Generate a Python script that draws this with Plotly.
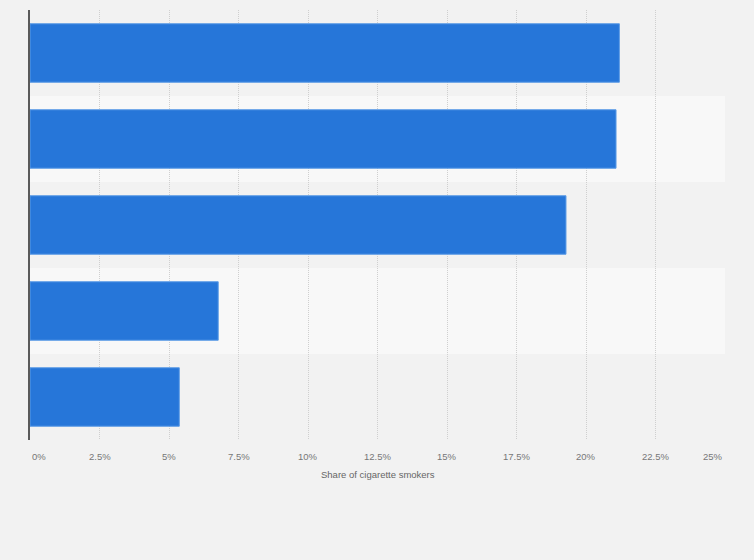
import plotly.graph_objects as go

categories = ["Group A", "Group B", "Group C", "Group D", "Group E"]
values = [21.2, 21.08, 19.28, 6.77, 5.37]
tick_vals = [0, 2.5, 5, 7.5, 10, 12.5, 15, 17.5, 20, 22.5, 25]
tick_text = ["0%", "2.5%", "5%", "7.5%", "10%", "12.5%", "15%", "17.5%", "20%", "22.5%", "25%"]
axis_title = "Share of cigarette smokers"

fig = go.Figure()
fig.add_trace(go.Bar(
    y=categories, x=values, orientation="h",
    marker=dict(color="#2676d9", line=dict(color="#5b9be6", width=1)),
    width=0.68, hoverinfo="x+y",
))

shapes = []
for i, c in enumerate(categories):
    if i % 2 == 1:
        shapes.append(dict(type="rect", xref="x", yref="y", layer="below",
                           x0=0, x1=25, y0=i - 0.5, y1=i + 0.5,
                           fillcolor="#f8f8f8", line=dict(width=0)))

annotations = []
for i, (v, t) in enumerate(zip(tick_vals, tick_text)):
    anchor = "left" if i == 0 else ("right" if i == len(tick_vals) - 1 else "center")
    annotations.append(dict(x=v, y=0, xref="x", yref="paper", text=t, showarrow=False,
                            xanchor=anchor, yanchor="middle", yshift=-16,
                            font=dict(family="Liberation Sans, Arial", size=9.5, color="#777")))
annotations.append(dict(x=0.5, y=0, xref="paper", yref="paper", text=axis_title,
                        showarrow=False, xanchor="center", yanchor="middle", yshift=-34,
                        font=dict(family="Liberation Sans, Arial", size=9.5, color="#666")))

fig.update_layout(
    width=754, height=560,
    margin=dict(l=30, r=29, t=10, b=120),
    paper_bgcolor="#f2f2f2", plot_bgcolor="#f2f2f2",
    showlegend=False,
    shapes=shapes, annotations=annotations,
    xaxis=dict(range=[0, 25], tickvals=tick_vals, showticklabels=False,
               showgrid=True, gridcolor="#cfcfcf", griddash="1px,1px", gridwidth=1,
               zeroline=False, ticks="", showline=False, fixedrange=True),
    yaxis=dict(showticklabels=False, showgrid=False,
               zeroline=False, showline=True, linecolor="#5a5a5a", linewidth=1.5,
               ticks="", autorange=False, range=[4.5, -0.5], fixedrange=True),
)

fig.write_html("out.html")
